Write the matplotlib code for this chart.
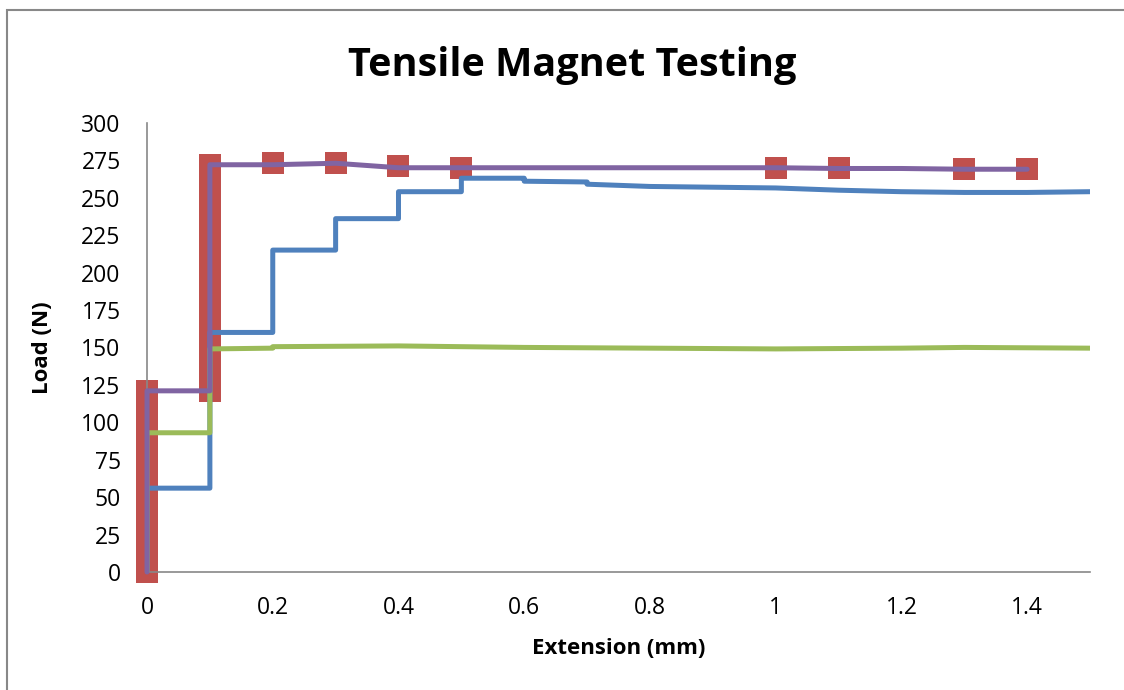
import matplotlib.pyplot as plt
from matplotlib.patches import Rectangle

# blue series
blue_x = [0, 0, 0.1, 0.1, 0.2, 0.2, 0.3, 0.3, 0.4, 0.4, 0.5, 0.5, 0.6, 0.6, 0.7, 0.7,
          0.8, 0.9, 1.0, 1.1, 1.2, 1.3, 1.4, 1.5]
blue_y = [0, 56, 56, 160, 160, 215, 215, 236, 236, 254, 254, 263, 263, 261, 260.5, 259,
          257.5, 257, 256.5, 255, 254, 253.5, 253.5, 254]

# green series
green_x = [0, 0, 0.1, 0.1, 0.2, 0.2, 0.4, 0.6, 0.8, 1.0, 1.2, 1.3, 1.5]
green_y = [0, 93, 93, 149, 149.5, 150.5, 151, 150, 149.5, 149, 149.5, 150, 149.5]

# purple series
purple_x = [0, 0, 0.1, 0.1, 0.2, 0.3, 0.4, 0.5, 0.6, 0.8, 1.0, 1.1, 1.2, 1.3, 1.4]
purple_y = [0, 121, 121, 272, 272, 273, 270, 270, 270, 270, 270, 269.5, 269.5, 269, 269]

# red series (markers only)
red_x = [0, 0, 0, 0, 0, 0, 0, 0, 0, 0, 0, 0, 0,
         0.1, 0.1, 0.1, 0.1, 0.1, 0.1, 0.1, 0.1, 0.1, 0.1, 0.1, 0.1, 0.1, 0.1, 0.1, 0.1,
         0.2, 0.3, 0.4, 0.5, 1.0, 1.1, 1.3, 1.4]
red_y = [0, 10, 20, 30, 40, 50, 60, 70, 80, 90, 100, 110, 121,
         121, 131, 141, 151, 161, 171, 181, 191, 201, 211, 221, 231, 241, 251, 261, 272,
         273, 273, 271, 270, 270, 270, 269, 269]

x_ticks = [0, 0.2, 0.4, 0.6, 0.8, 1.0, 1.2, 1.4]
x_labels = ['0', '0.2', '0.4', '0.6', '0.8', '1', '1.2', '1.4']
y_ticks = list(range(0, 301, 25))

plt.rcParams['font.family'] = ['Open Sans', 'DejaVu Sans']

fig = plt.figure(figsize=(11.24, 6.9), dpi=100)
ax = fig.add_axes([0.1308, 0.171, 0.9698 - 0.1308, 0.822 - 0.171])

ax.plot(red_x, red_y, linestyle='none', marker='s', markersize=15.5,
        color='#C0504D', markeredgewidth=0, zorder=2, clip_on=False)
ax.plot(blue_x, blue_y, color='#4F81BD', lw=3.6, solid_joinstyle='round', zorder=3)
ax.plot(green_x, green_y, color='#9BBB59', lw=3.6, solid_joinstyle='round', zorder=3)
ax.plot(purple_x, purple_y, color='#8064A2', lw=3.6, solid_joinstyle='round',
        solid_capstyle='round', zorder=4, clip_on=False)

ax.set_xlim(0, 1.5)
ax.set_ylim(0, 300)
ax.set_xticks(x_ticks)
ax.set_xticklabels(x_labels)
ax.set_yticks(y_ticks)
ax.tick_params(length=0, labelsize=16.5)
ax.tick_params(axis='x', pad=17)
ax.tick_params(axis='y', pad=19)
for s in ['top', 'right']:
    ax.spines[s].set_visible(False)
for s in ['left', 'bottom']:
    ax.spines[s].set_color('#888888')
    ax.spines[s].set_linewidth(1.2)

ax.set_xlabel('Extension (mm)', fontsize=16, fontweight='bold')
ax.set_ylabel('Load (N)', fontsize=16, fontweight='bold')
ax.xaxis.set_label_coords(0.5, -0.148)
ax.yaxis.set_label_coords(-0.1, 0.5)
fig.text(0.509, 0.905, 'Tensile Magnet Testing', ha='center', va='center',
         fontsize=28.5, fontweight='bold')

fig.patches.append(Rectangle((7 / 1124, -0.05), 1.2, 1 - 10 / 690 + 0.05,
                             transform=fig.transFigure, fill=False,
                             edgecolor='#888888', lw=1.5))

fig.savefig('out.png', dpi=100)
